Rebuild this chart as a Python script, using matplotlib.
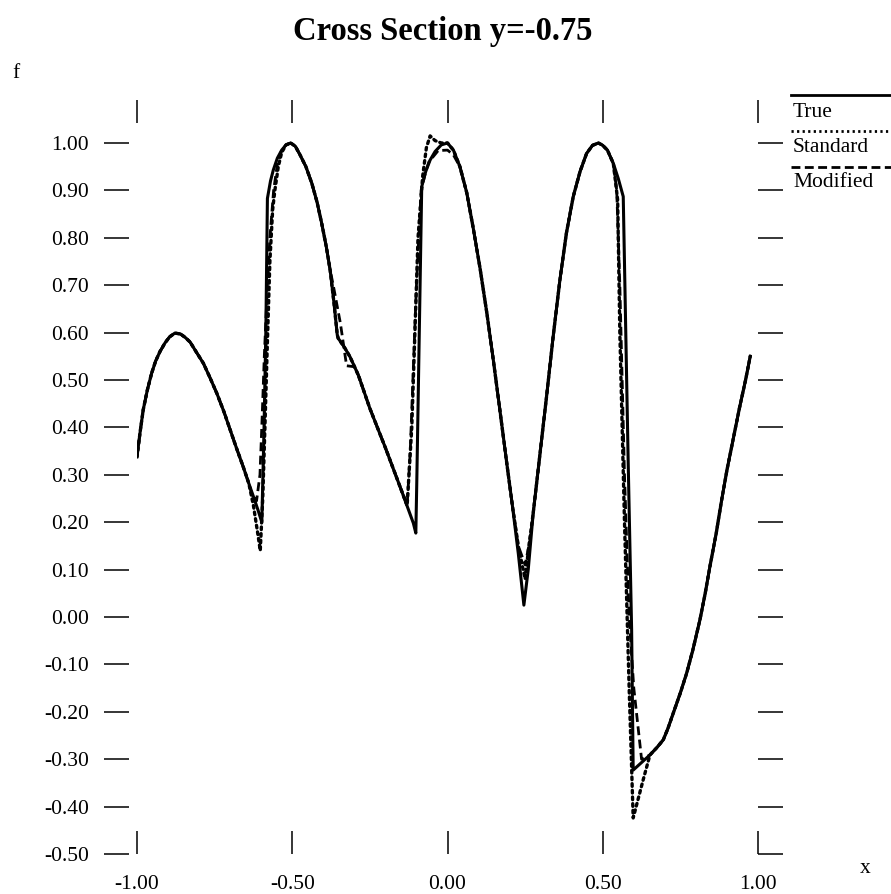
import matplotlib
matplotlib.use("Agg")
import matplotlib.pyplot as plt
from matplotlib.lines import Line2D

plt.rcParams["font.family"] = ["Liberation Serif", "DejaVu Serif"]
plt.rcParams["axes.unicode_minus"] = False

# =========================
# DATA
# =========================
x_true = [-1.00, -0.99, -0.98, -0.967, -0.953, -0.94, -0.926, -0.91, -0.895,
          -0.878, -0.86, -0.845, -0.829, -0.81, -0.786, -0.765, -0.743, -0.72,
          -0.70, -0.68, -0.658, -0.64, -0.625, -0.61, -0.598,
          -0.591, -0.585, -0.58, -0.57, -0.561, -0.548, -0.534, -0.52, -0.505,
          -0.49, -0.475, -0.456, -0.437, -0.42, -0.405, -0.39, -0.378, -0.366,
          -0.355, -0.352, -0.333, -0.314, -0.287, -0.25, -0.20, -0.15, -0.11,
          -0.102, -0.099, -0.083, -0.07, -0.056, -0.04, -0.02, 0.0,
          0.019, 0.04, 0.062, 0.083, 0.105, 0.127, 0.148, 0.17, 0.191, 0.21,
          0.228, 0.246, 0.26, 0.276, 0.298, 0.319, 0.34, 0.362, 0.383, 0.405,
          0.427, 0.448, 0.467, 0.486, 0.50, 0.515, 0.534, 0.55, 0.566,
          0.572, 0.582, 0.593, 0.598, 0.625, 0.652, 0.675, 0.695, 0.71, 0.727,
          0.75, 0.77, 0.79, 0.813, 0.83, 0.845, 0.865, 0.883, 0.90, 0.92,
          0.94, 0.96, 0.975]
y_true = [0.338, 0.39, 0.437, 0.478, 0.514, 0.54, 0.56, 0.578, 0.591,
          0.599, 0.597, 0.59, 0.58, 0.56, 0.535, 0.505, 0.472, 0.433,
          0.395, 0.357, 0.317, 0.282, 0.254, 0.225, 0.20,
          0.395, 0.605, 0.883, 0.92, 0.943, 0.968, 0.985, 0.996, 1.00,
          0.993, 0.975, 0.95, 0.915, 0.875, 0.83, 0.78, 0.732, 0.665,
          0.595, 0.588, 0.57, 0.549, 0.51, 0.44, 0.357, 0.27, 0.198,
          0.177, 0.282, 0.908, 0.94, 0.964, 0.982, 0.996, 1.00,
          0.985, 0.95, 0.895, 0.82, 0.735, 0.64, 0.54, 0.43, 0.324, 0.23,
          0.134, 0.025, 0.10, 0.219, 0.345, 0.465, 0.59, 0.711, 0.81, 0.887,
          0.94, 0.978, 0.995, 1.00, 0.995, 0.985, 0.957, 0.925, 0.887,
          0.676, 0.324, -0.027, -0.323, -0.307, -0.291, -0.275, -0.259, -0.235, -0.203,
          -0.16, -0.119, -0.07, -0.006, 0.05, 0.106, 0.175, 0.247, 0.31, 0.375,
          0.44, 0.50, 0.55]

x_std = [-1.00, -0.99, -0.98, -0.967, -0.953, -0.94, -0.926, -0.91, -0.895,
         -0.878, -0.86, -0.845, -0.829, -0.81, -0.786, -0.765, -0.743, -0.72,
         -0.70, -0.68, -0.658, -0.64, -0.625, -0.612, -0.603,
         -0.595, -0.588, -0.58, -0.572, -0.563, -0.556, -0.545, -0.534, -0.52,
         -0.505, -0.49, -0.475, -0.456, -0.437, -0.42, -0.405, -0.39, -0.378,
         -0.366, -0.355, -0.352, -0.333, -0.314, -0.287, -0.25, -0.20, -0.13,
         -0.115, -0.095, -0.08, -0.068, -0.056, -0.04, -0.02, 0.0,
         0.019, 0.04, 0.062, 0.083, 0.105, 0.127, 0.148, 0.17, 0.191, 0.21,
         0.228, 0.25, 0.262, 0.276, 0.298, 0.319, 0.34, 0.362, 0.383, 0.405,
         0.427, 0.448, 0.467, 0.486, 0.50, 0.515, 0.534, 0.548,
         0.555, 0.57, 0.585, 0.598, 0.63, 0.652, 0.675, 0.695, 0.71, 0.727,
         0.75, 0.77, 0.79, 0.813, 0.83, 0.845, 0.865, 0.883, 0.90, 0.92,
         0.94, 0.96, 0.975]
y_std = [0.338, 0.39, 0.437, 0.478, 0.514, 0.54, 0.56, 0.578, 0.591,
         0.599, 0.597, 0.59, 0.58, 0.56, 0.535, 0.505, 0.472, 0.433,
         0.395, 0.357, 0.317, 0.282, 0.235, 0.18, 0.14,
         0.25, 0.40, 0.58, 0.75, 0.86, 0.90, 0.95, 0.98, 0.996,
         1.00, 0.993, 0.975, 0.95, 0.915, 0.875, 0.83, 0.78, 0.732,
         0.665, 0.595, 0.588, 0.57, 0.549, 0.51, 0.44, 0.357, 0.235,
         0.40, 0.80, 0.93, 0.99, 1.015, 1.005, 1.00, 1.00,
         0.985, 0.95, 0.895, 0.82, 0.735, 0.64, 0.54, 0.43, 0.324, 0.23,
         0.15, 0.08, 0.15, 0.219, 0.345, 0.465, 0.59, 0.711, 0.81, 0.887,
         0.94, 0.978, 0.995, 1.00, 0.995, 0.985, 0.957, 0.88,
         0.60, 0.20, -0.15, -0.424, -0.344, -0.291, -0.275, -0.259, -0.235, -0.203,
         -0.16, -0.119, -0.07, -0.006, 0.05, 0.106, 0.175, 0.247, 0.31, 0.375,
         0.44, 0.50, 0.55]

x_mod = [-1.00, -0.99, -0.98, -0.967, -0.953, -0.94, -0.926, -0.91, -0.895,
         -0.878, -0.86, -0.845, -0.829, -0.81, -0.786, -0.765, -0.743, -0.72,
         -0.70, -0.68, -0.658, -0.64, -0.631, -0.615, -0.604,
         -0.597, -0.59, -0.58, -0.572, -0.56, -0.548, -0.534, -0.52, -0.505,
         -0.49, -0.475, -0.456, -0.437, -0.42, -0.405, -0.39, -0.378, -0.368,
         -0.345, -0.325, -0.30, -0.287, -0.25, -0.20, -0.13,
         -0.12, -0.10, -0.085, -0.07, -0.06, -0.03, 0.0,
         0.019, 0.04, 0.062, 0.083, 0.105, 0.127, 0.148, 0.17, 0.191, 0.21,
         0.228, 0.25, 0.265, 0.276, 0.298, 0.319, 0.34, 0.362, 0.383, 0.405,
         0.427, 0.448, 0.467, 0.486, 0.50, 0.515, 0.534, 0.545,
         0.555, 0.57, 0.585, 0.60, 0.625, 0.652, 0.675, 0.695, 0.71, 0.727,
         0.75, 0.77, 0.79, 0.813, 0.83, 0.845, 0.865, 0.883, 0.90, 0.92,
         0.94, 0.96, 0.975]
y_mod = [0.338, 0.39, 0.437, 0.478, 0.514, 0.54, 0.56, 0.578, 0.591,
         0.599, 0.597, 0.59, 0.58, 0.56, 0.535, 0.505, 0.472, 0.433,
         0.395, 0.357, 0.317, 0.282, 0.26, 0.245, 0.30,
         0.42, 0.55, 0.70, 0.80, 0.90, 0.955, 0.985, 0.996, 1.00,
         0.993, 0.975, 0.95, 0.915, 0.875, 0.83, 0.78, 0.732, 0.70,
         0.62, 0.53, 0.528, 0.51, 0.44, 0.357, 0.235,
         0.35, 0.70, 0.90, 0.94, 0.96, 0.984, 0.985,
         0.975, 0.95, 0.895, 0.82, 0.735, 0.64, 0.54, 0.43, 0.324, 0.23,
         0.15, 0.11, 0.16, 0.219, 0.345, 0.465, 0.59, 0.711, 0.81, 0.887,
         0.94, 0.978, 0.995, 1.00, 0.995, 0.985, 0.957, 0.90,
         0.70, 0.30, 0.0, -0.15, -0.30, -0.291, -0.275, -0.259, -0.235, -0.203,
         -0.16, -0.119, -0.07, -0.006, 0.05, 0.106, 0.175, 0.247, 0.31, 0.375,
         0.44, 0.50, 0.55]

x_ticks = [-1.0, -0.5, 0.0, 0.5, 1.0]
x_labels = ["-1.00", "-0.50", "0.00", "0.50", "1.00"]
y_ticks = [1.0, 0.9, 0.8, 0.7, 0.6, 0.5, 0.4, 0.3, 0.2, 0.1, 0.0,
           -0.1, -0.2, -0.3, -0.4, -0.5]
y_labels = ["%.2f" % v for v in y_ticks]

DOT = (0, (0.8, 1.2))
DASH = (0, (3.2, 1.6))

# =========================
# FIGURE
# =========================
W, H = 891, 894
fig = plt.figure(figsize=(W / 100, H / 100), dpi=100)
ax = fig.add_axes([137 / W, 40 / H, (758 - 137) / W, (854 - 100) / H])

ax.plot(x_true, y_true, color="black", lw=2.2, solid_joinstyle="round")
ax.plot(x_std, y_std, color="black", lw=2.4, linestyle=DOT,
        dash_capstyle="round")
ax.plot(x_mod, y_mod, color="black", lw=2.0, linestyle=DASH)

ax.set_xlim(-1.0, 1.0)
ax.set_ylim(-0.5, 1.0907)

for s in ax.spines.values():
    s.set_visible(False)
ax.spines["left"].set_position(("outward", 6))

ax.set_xticks(x_ticks)
ax.set_xticklabels(x_labels)
ax.set_yticks(y_ticks)
ax.set_yticklabels(y_labels)

ax.tick_params(axis="x", direction="in", length=16.5, width=1.1,
               top=True, bottom=True, labelsize=15.5, pad=15)
ax.tick_params(axis="y", direction="out", length=18, width=1.1,
               left=True, right=True, labelright=False, labelsize=15.5, pad=10.5)

fig.text(0.497, 1 - 40 / H, "Cross Section y=-0.75", ha="center",
         va="baseline", fontsize=23.5, fontweight="bold")
fig.text(12 / W, 1 - 78 / H, "f", fontsize=15.5, va="baseline")
fig.text(860 / W, 1 - 873 / H, "x", fontsize=15.5, va="baseline")

# legend: line above each label
leg_items = [("True", "-", 95, 117), ("Standard", DOT, 131, 152),
             ("Modified", DASH, 167, 187)]
for name, ls, ly, ty in leg_items:
    fig.add_artist(Line2D([791 / W, 1.0], [1 - ly / H, 1 - ly / H],
                          transform=fig.transFigure, color="black",
                          lw=2.0, linestyle=ls))
    fig.text(793 / W, 1 - ty / H, name, fontsize=15.5, va="baseline")

fig.savefig("out.png", dpi=100)
